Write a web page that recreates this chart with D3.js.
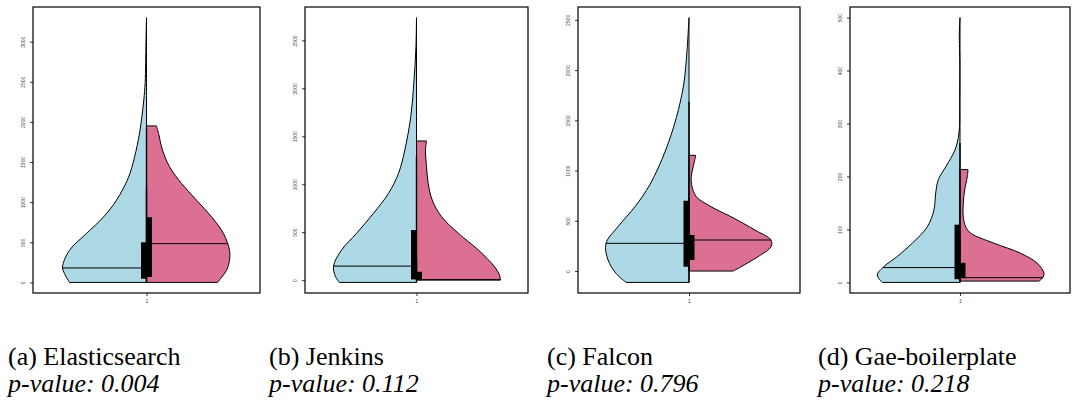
<!DOCTYPE html>
<html>
<head>
<meta charset="utf-8">
<script src="https://cdn.jsdelivr.net/npm/d3@7"></script>
<style>
  body { margin: 0; background: #fff; }
  svg { display: block; }
  .cap { font-family: 'Liberation Serif', 'DejaVu Serif', serif; font-size: 26px; fill: #000; }
  .tick text { font-family: 'Liberation Sans', 'DejaVu Sans', sans-serif; font-size: 5px; fill: #444; }
</style>
</head>
<body>
<svg width="1078" height="407"></svg>
<script>

// captions
let projects = ['(a) Elasticsearch', '(b) Jenkins', '(c) Falcon', '(d) Gae-boilerplate'];
let pValues  = ['0.004', '0.112', '0.796', '0.218'];

// tick labels of the y axes
let yTicks = [
    [0, 500, 1000, 1500, 2000, 2500, 3000],
    [0, 500, 1000, 1500, 2000, 2500],
    [0, 500, 1000, 1500, 2000, 2500],
    [0, 100, 200, 300, 400, 500]
];

// violin outlines: [value, relative density]
let blueA = [[3300,0],[3000,0.006],[2490,0.016],[2275,0.032],[1860,0.083],[1560,0.143],[1310,0.214],
             [1025,0.357],[815,0.512],[610,0.714],[400,0.917],[190,1.0],[110,0.976],[0,0.917]];
let redA  = [[1950,0.119],[1858,0.143],[1650,0.19],[1442,0.274],[1233,0.417],[1025,0.595],[817,0.774],
             [608,0.917],[400,0.988],[275,0.988],[150,0.952],[0,0.845]];

let blueB = [[2738,0],[2400,0.008],[2053,0.032],[1705,0.068],[1357,0.139],[1114,0.214],[905,0.333],
             [697,0.512],[488,0.714],[313,0.893],[146,0.988],[35,0.964],[-24,0.917]];
let redB  = [[1451,0.119],[1357,0.107],[1183,0.119],[1009,0.139],[835,0.187],[661,0.298],[487,0.5],
             [313,0.738],[139,0.929],[52,0.988],[0,1.0]];

let blueC = [[2523,0],[2191,0.024],[1859,0.063],[1527,0.151],[1195,0.282],[863,0.464],[641,0.643],
             [442,0.845],[276,0.988],[110,0.964],[-23,0.869],[-113,0.75]];
let redC  = [[1152,0.08],[1072,0.06],[939,0.027],[840,0.036],[740,0.087],[641,0.262],[541,0.5],
             [408,0.786],[309,0.976],[242,0.976],[143,0.821],[43,0.619],[0,0.524]];

let blueD = [[500,0],[471,0.008],[408,0.002],[345,0.004],[282,0.012],[250,0.06],[219,0.167],[194,0.258],
             [169,0.289],[137,0.31],[105,0.389],[74,0.568],[49,0.746],[30,0.905],[14,0.985],[0,0.925]];
let redD  = [[213,0.095],[200,0.087],[175,0.056],[150,0.039],[124,0.039],[105,0.068],[93,0.127],
             [74,0.405],[55,0.723],[36,0.92],[17,1.0],[8,0.98],[2.5,0.94]];

let blueShapes = [blueA, blueB, blueC, blueD];
let redShapes  = [redA, redB, redC, redD];

// box plot stats per project
let blueQ1  = [46, 7, 43, 6];
let blueQ3  = [500, 522, 700, 109];
let blueMed = [180, 146, 276, 28];
let blueTop = [1180, 1290, 1686, 263];
let redQ1   = [67, 0, 110, 8];
let redQ3   = [812, 87, 359, 37];
let redMed  = [483, 5, 309, 9];
let redTop  = [1930, 217, 733, 80];


let svg = d3.select('svg');

// where each little plot sits
let frameL = [33, 305, 578, 850];
let frameR = [260, 528, 800, 1070];
let captionX = [8, 269, 547, 818];

let blueFill = '#ADD8E6';
let redFill  = '#DB7093';

let wScale = d3.scaleLinear().domain([0, 1]).range([0, 84]);

// width of an outline at a given value (linear between the read points)
function widthAt(shape, v) {
    for (let j = 0; j < shape.length - 1; j++) {
        let a = shape[j], b = shape[j + 1];
        if (v <= a[0] && v >= b[0]) {
            let t = (a[0] - v) / (a[0] - b[0]);
            return a[1] + t * (b[1] - a[1]);
        }
    }
    return shape[shape.length - 1][1];
}

projects.forEach(function (name, i) {
    let g = svg.append('g');

    let blue = blueShapes[i], red = redShapes[i];
    let all = blue.concat(red).map(d => d[0]);
    let lo = d3.min(all), hi = d3.max(all);
    let pad = (hi - lo) * 0.04;

    let y = d3.scaleLinear().domain([lo - pad, hi + pad]).range([293, 7]);
    let x = d3.scaleLinear().domain([0.5, 1.5]).range([frameL[i], frameR[i]]);
    let cx = x(1);

    // left half
    let leftArea = d3.area()
        .curve(d3.curveCatmullRom)
        .y(d => y(d[0]))
        .x0(cx)
        .x1(d => cx - wScale(d[1]));
    // right half
    let rightArea = d3.area()
        .curve(d3.curveCatmullRom)
        .y(d => y(d[0]))
        .x0(cx)
        .x1(d => cx + wScale(d[1]));

    g.append('path').datum(blue)
        .attr('d', leftArea)
        .attr('fill', blueFill)
        .attr('stroke', '#000')
        .attr('stroke-width', 1);
    g.append('path').datum(red)
        .attr('d', rightArea)
        .attr('fill', redFill)
        .attr('stroke', '#000')
        .attr('stroke-width', 1);

    // medians
    g.append('line')
        .attr('x1', cx - wScale(widthAt(blue, blueMed[i]))).attr('x2', cx)
        .attr('y1', y(blueMed[i])).attr('y2', y(blueMed[i]))
        .attr('stroke', '#000').attr('stroke-width', 1);
    g.append('line')
        .attr('x1', cx).attr('x2', cx + wScale(widthAt(red, redMed[i])))
        .attr('y1', y(redMed[i])).attr('y2', y(redMed[i]))
        .attr('stroke', '#000').attr('stroke-width', 1);

    // whiskers
    g.append('line')
        .attr('x1', cx).attr('x2', cx)
        .attr('y1', y(blueTop[i])).attr('y2', y(d3.min(blue, d => d[0])))
        .attr('stroke', '#000').attr('stroke-width', 1.4);
    g.append('line')
        .attr('x1', cx).attr('x2', cx)
        .attr('y1', y(redTop[i])).attr('y2', y(d3.min(red, d => d[0])))
        .attr('stroke', '#000').attr('stroke-width', 1.4);

    // boxes
    g.append('rect')
        .attr('x', cx - 5.5).attr('width', 5.5)
        .attr('y', y(blueQ3[i])).attr('height', y(blueQ1[i]) - y(blueQ3[i]))
        .attr('fill', '#000');
    g.append('rect')
        .attr('x', cx).attr('width', 5.5)
        .attr('y', y(redQ3[i])).attr('height', y(redQ1[i]) - y(redQ3[i]))
        .attr('fill', '#000');

    // frame
    g.append('rect')
        .attr('x', frameL[i]).attr('y', 7)
        .attr('width', frameR[i] - frameL[i]).attr('height', 286)
        .attr('fill', 'none')
        .attr('stroke', '#000')
        .attr('stroke-width', 1.2);

    // y axis
    let yAxis = g.append('g')
        .attr('transform', 'translate(' + frameL[i] + ',0)')
        .call(d3.axisLeft(y).tickValues(yTicks[i]).tickSize(3).tickFormat(d3.format('')));
    yAxis.select('.domain').remove();
    yAxis.attr('font-family', null).attr('font-size', null);
    yAxis.selectAll('line').attr('stroke', '#000').attr('stroke-width', 0.8);
    yAxis.selectAll('text')
        .attr('x', 0).attr('y', -8.5).attr('dy', 0)
        .attr('transform', 'rotate(-90)')
        .attr('text-anchor', 'middle');

    // x axis
    let xAxis = g.append('g')
        .attr('transform', 'translate(0,293)')
        .call(d3.axisBottom(x).tickValues([1]).tickSize(3).tickFormat(d3.format('')));
    xAxis.select('.domain').remove();
    xAxis.attr('font-family', null).attr('font-size', null);
    xAxis.selectAll('line').attr('stroke', '#000').attr('stroke-width', 0.8);

    // captions
    svg.append('text')
        .attr('class', 'cap')
        .attr('x', captionX[i]).attr('y', 365)
        .text(name);
    svg.append('text')
        .attr('class', 'cap')
        .attr('x', captionX[i]).attr('y', 392)
        .style('font-style', 'italic')
        .text('p-value: ' + pValues[i]);
});

</script>
</body>
</html>
